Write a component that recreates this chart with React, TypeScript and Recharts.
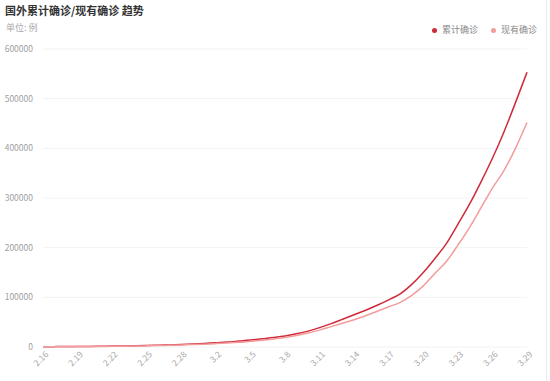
import React from 'react';
import { LineChart, Line, XAxis, YAxis, CartesianGrid } from 'recharts';

const dates = [
  '2.16', '2.17', '2.18', '2.19', '2.20', '2.21', '2.22', '2.23', '2.24', '2.25',
  '2.26', '2.27', '2.28', '2.29', '3.1', '3.2', '3.3', '3.4', '3.5', '3.6',
  '3.7', '3.8', '3.9', '3.10', '3.11', '3.12', '3.13', '3.14', '3.15', '3.16',
  '3.17', '3.18', '3.19', '3.20', '3.21', '3.22', '3.23', '3.24', '3.25', '3.26',
  '3.27', '3.28', '3.29',
];

const cumulative = [
  600, 750, 850, 1000, 1150, 1400, 1800, 2100, 2500, 3000,
  3500, 4200, 5000, 6000, 7200, 8600, 10000, 12000, 14000, 16500,
  19000, 22000, 26500, 32000, 39000, 47000, 56000, 65000, 74000, 84000,
  95000, 107000, 126000, 150000, 178000, 208000, 247000, 287000, 332000, 380000,
  433000, 492000, 553000,
];

const current = [
  500, 600, 650, 800, 900, 1100, 1400, 1600, 1900, 2300,
  2800, 3300, 4000, 4800, 5700, 6800, 8000, 9500, 11500, 13500,
  16000, 19000, 23000, 28000, 34000, 41000, 48000, 55000, 63000, 72000,
  81000, 90000, 104000, 123000, 148000, 172000, 205000, 240000, 280000, 320000,
  355000, 400000, 452000,
];

const yTicks = [0, 100000, 200000, 300000, 400000, 500000, 600000];

const series = [
  { key: 'cumulative', name: '累计确诊', color: '#cf2a3a' },
  { key: 'current', name: '现有确诊', color: '#f29c9c' },
];

const data = dates.map((d, i) => ({ date: d, cumulative: cumulative[i], current: current[i] }));

const FONT = '"Noto Sans CJK SC", "Noto Sans", sans-serif';

const XTick = (props: any) => {
  const { x, y, payload } = props;
  return (
    <text
      x={x + 6}
      y={y + 8}
      textAnchor="end"
      fill="#a8a8a8"
      fontSize={8.5}
      fontFamily={FONT}
      transform={`rotate(-45 ${x + 6} ${y + 8})`}
    >
      {payload.value}
    </text>
  );
};

export default function App() {
  return (
    <div style={{ position: 'absolute', left: 0, top: 0, width: 550, height: 381, background: '#fff', fontFamily: FONT }}>
      <div style={{ position: 'absolute', left: 5, top: 2, fontSize: 11, fontWeight: 'bold', color: '#333', lineHeight: '16px', whiteSpace: 'nowrap' }}>
        国外累计确诊/现有确诊 趋势
      </div>
      <div style={{ position: 'absolute', left: 6, top: 21, fontSize: 9, color: '#aaa', lineHeight: '14px', whiteSpace: 'nowrap' }}>
        单位: 例
      </div>
      <div style={{ position: 'absolute', left: 432, top: 23, display: 'flex', alignItems: 'center', fontSize: 9, color: '#888', lineHeight: '14px', whiteSpace: 'nowrap' }}>
        {series.map((s) => (
          <div key={s.key} style={{ display: 'flex', alignItems: 'center', marginRight: 13 }}>
            <span style={{ display: 'inline-block', width: 5, height: 5, borderRadius: '50%', background: s.color, marginRight: 5 }} />
            <span>{s.name}</span>
          </div>
        ))}
      </div>
      <div style={{ position: 'absolute', left: 546, top: 0, width: 1, height: 381, background: '#ececec' }} />
      <div style={{ position: 'absolute', left: 0, top: 0 }}>
        <LineChart width={550} height={381} data={data} margin={{ top: 49, right: 23, bottom: 4, left: 0 }}>
          <CartesianGrid vertical={false} stroke="#f2f2f2" />
          <XAxis
            dataKey="date"
            interval={2}
            axisLine={false}
            tickLine={false}
            tickSize={0}
            tickMargin={0}
            height={30}
            tick={<XTick />}
          />
          <YAxis
            domain={[0, 600000]}
            ticks={yTicks}
            axisLine={false}
            tickLine={false}
            tickSize={0}
            tickMargin={10}
            width={43}
            tick={{ fill: '#a0a0a0', fontSize: 8.5, fontFamily: FONT }}
          />
          {series.map((s) => (
            <Line
              key={s.key}
              type="monotone"
              dataKey={s.key}
              name={s.name}
              stroke={s.color}
              strokeWidth={1.5}
              dot={false}
              activeDot={false}
              isAnimationActive={false}
            />
          ))}
        </LineChart>
      </div>
    </div>
  );
}
